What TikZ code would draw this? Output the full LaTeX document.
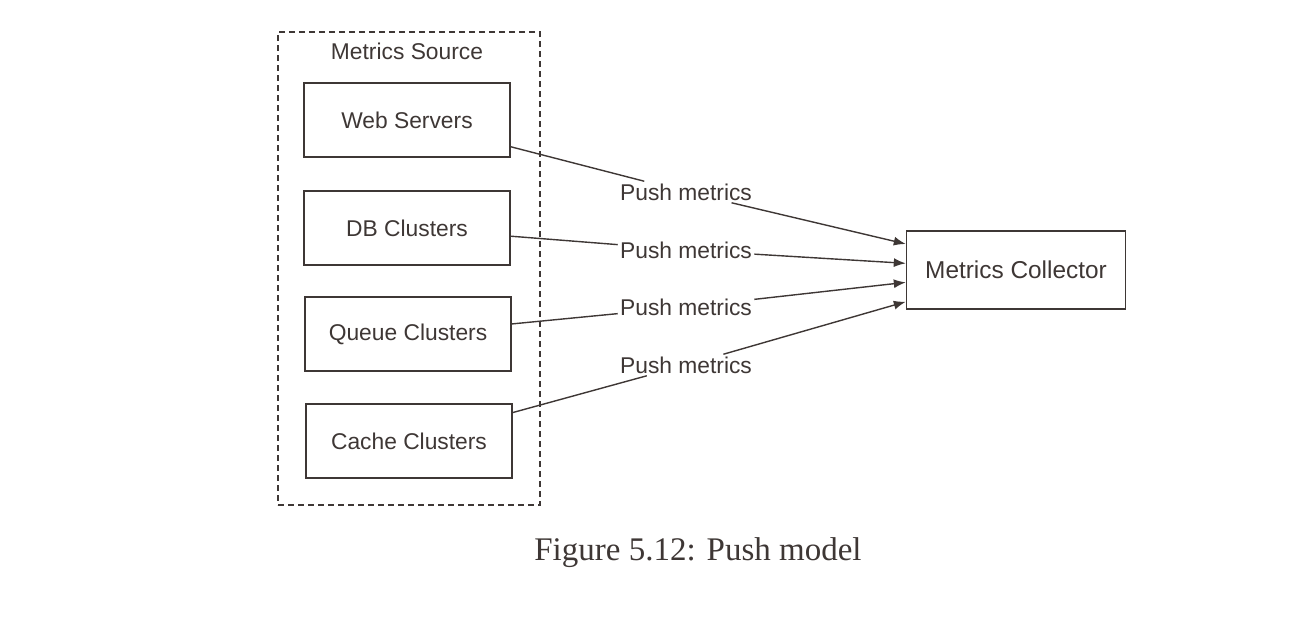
\documentclass[tikz,border=0pt]{standalone}
\usepackage{fontspec}
\setmainfont{Liberation Serif}
\setsansfont{Liberation Sans}
\usepackage{tikz}
\usetikzlibrary{arrows.meta,positioning,fit}

\definecolor{ink}{RGB}{62,55,53}

\begin{document}
\begin{tikzpicture}[x=0.5pt,y=-0.5pt,every node/.style={text=ink,font=\sffamily\fontsize{11.4}{13}\selectfont}]
        \tikzstyle{srcblock}=[rectangle, draw=ink, line width=0.7pt, minimum width=103pt, minimum height=37pt]
        \tikzstyle{label}=[inner sep=1pt]
        \tikzstyle{link}=[draw=ink, line width=0.7pt]
        \useasboundingbox (0,0) rectangle (1310,618);
        % metrics source
        \node[rectangle, draw=ink, dashed, dash pattern=on 3pt off 2pt, line width=0.6pt, minimum width=131pt, minimum height=236.5pt] (src) at (409,268.5) {};
        \node (srctitle) at (407,51) {Metrics Source};
        \node[srcblock] (web) at (407,120) {Web Servers};
        \node[srcblock] (db) at (407,228) {DB Clusters};
        \node[srcblock] (queue) at (408,334) {Queue Clusters};
        \node[srcblock] (cache) at (409,441) {Cache Clusters};
        % collector
        \node[rectangle, draw=ink, line width=0.7pt, minimum width=109.5pt, minimum height=39pt, font=\sffamily\fontsize{12.2}{14}\selectfont] (coll) at (1016,270) {Metrics Collector};
        % labels
        \node[label] (p1) at (686,192) {Push metrics};
        \node[label] (p2) at (686,250) {Push metrics};
        \node[label] (p3) at (686,307) {Push metrics};
        \node[label] (p4) at (686,365) {Push metrics};
        \draw [link] (web) -- (p1);
        \draw [link] (db) -- (p2);
        \draw [link] (queue) -- (p3);
        \draw [link] (cache) -- (p4);
        \draw [link,-{Latex[length=6pt,width=4.5pt]}] (p1) -- (coll);
        \draw [link,-{Latex[length=6pt,width=4.5pt]}] (p2) -- (coll);
        \draw [link,-{Latex[length=6pt,width=4.5pt]}] (p3) -- (coll);
        \draw [link,-{Latex[length=6pt,width=4.5pt]}] (p4) -- (coll);
        % caption
        \node[font=\rmfamily\fontsize{16.5}{19}\selectfont] (cap) at (698,553) {Figure 5.12: Push model};
      \end{tikzpicture}
\end{document}
